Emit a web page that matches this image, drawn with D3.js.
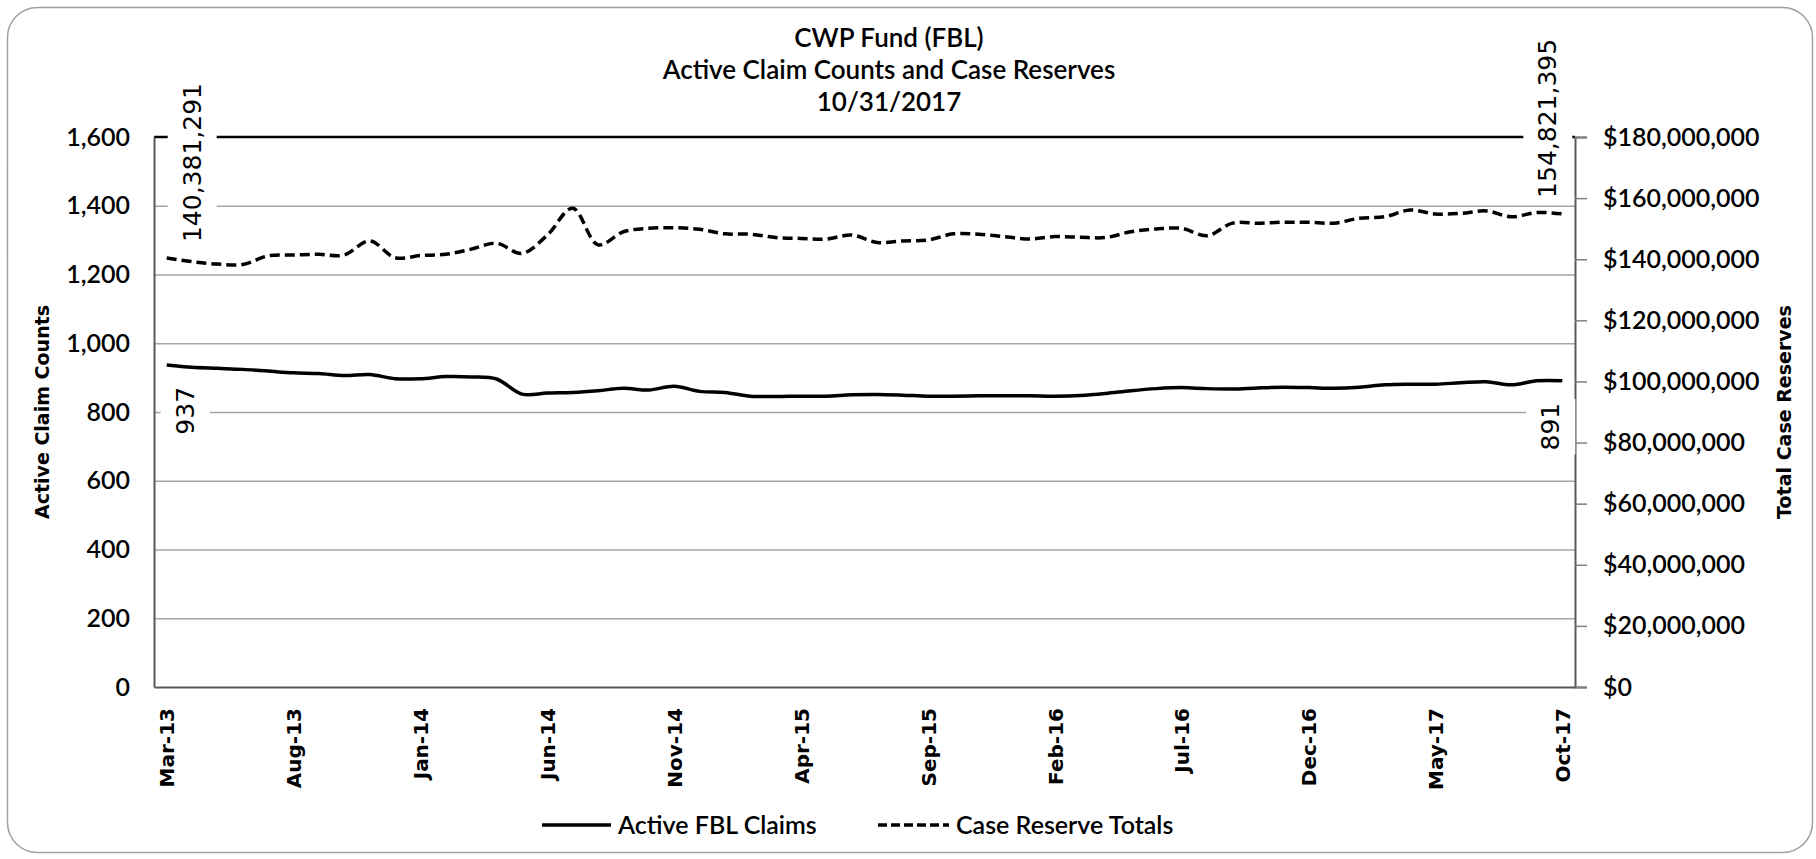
<!DOCTYPE html>
<html lang="en">
<head>
    <meta charset="UTF-8">
    <title>CWP Fund (FBL) - Active Claim Counts and Case Reserves</title>
    <script src="https://cdn.jsdelivr.net/npm/d3@7/dist/d3.min.js"></script>
    <style>
        html, body { margin: 0; padding: 0; background: #fff; }
        svg { display: block; }
    </style>
</head>
<body>
    <svg id="chart"></svg>

    <script>
        const months = [
            "Mar-13","Apr-13","May-13","Jun-13","Jul-13","Aug-13","Sep-13","Oct-13","Nov-13","Dec-13",
            "Jan-14","Feb-14","Mar-14","Apr-14","May-14","Jun-14","Jul-14","Aug-14","Sep-14","Oct-14","Nov-14","Dec-14",
            "Jan-15","Feb-15","Mar-15","Apr-15","May-15","Jun-15","Jul-15","Aug-15","Sep-15","Oct-15","Nov-15","Dec-15",
            "Jan-16","Feb-16","Mar-16","Apr-16","May-16","Jun-16","Jul-16","Aug-16","Sep-16","Oct-16","Nov-16","Dec-16",
            "Jan-17","Feb-17","Mar-17","Apr-17","May-17","Jun-17","Jul-17","Aug-17","Sep-17","Oct-17"
        ];
        const xTickLabels = ["Mar-13","Aug-13","Jan-14","Jun-14","Nov-14","Apr-15","Sep-15","Feb-16","Jul-16","Dec-16","May-17","Oct-17"];

        // active FBL claims (count)
        const claims = [
            937, 930, 927, 924, 919, 914, 912, 906, 909, 897,
            897, 903, 902, 896, 852, 855, 857, 862, 869, 864, 875, 860,
            857, 846, 845, 846, 846, 850, 851, 849, 846, 846, 847, 847,
            847, 846, 848, 854, 862, 868, 871, 868, 867, 870, 872, 871,
            869, 872, 879, 881, 881, 885, 888, 879, 891, 891
        ];
        // case reserve totals ($)
        const reserves = [
            140381291, 139200000, 138400000, 138300000, 141100000, 141400000, 141600000, 141400000, 146000000, 140500000,
            141200000, 141600000, 143300000, 145200000, 141900000, 147900000, 156700000, 144700000, 149000000, 150100000, 150300000, 149800000,
            148300000, 148200000, 147100000, 146800000, 146600000, 147900000, 145500000, 146000000, 146300000, 148300000, 148200000, 147400000,
            146600000, 147400000, 147200000, 147100000, 149000000, 149900000, 150100000, 147700000, 151800000, 151800000, 152100000, 152100000,
            151800000, 153400000, 153900000, 156100000, 154800000, 155000000, 155800000, 153900000, 155300000, 154821395
        ];

        const leftTicks = [0, 200, 400, 600, 800, 1000, 1200, 1400, 1600];
        const rightTicks = [0, 20e6, 40e6, 60e6, 80e6, 100e6, 120e6, 140e6, 160e6, 180e6];
        const titleLines = ["CWP Fund (FBL)", "Active Claim Counts and Case Reserves", "10/31/2017"];
        const seriesNames = ["Active FBL Claims", "Case Reserve Totals"];

        const width = 1816;
        const height = 859;
        const plot = { left: 154, right: 1575, top: 137, bottom: 687 };
        const calibri = "Lato, 'Open Sans', sans-serif";
        const verdana = "'DejaVu Sans', Verdana, sans-serif";
        const textWeight = 600;

        const svg = d3.select("#chart")
            .attr("width", width)
            .attr("height", height);

        // chart frame
        svg.append("rect")
            .attr("x", 7.5).attr("y", 7.5)
            .attr("width", 1805).attr("height", 845)
            .attr("rx", 30).attr("ry", 30)
            .attr("fill", "#fff")
            .attr("stroke", "#a0a0a0")
            .attr("stroke-width", 1.5);

        const x = d3.scalePoint()
            .domain(months)
            .range([plot.left, plot.right])
            .padding(0.5);

        const yLeft = d3.scaleLinear().domain([0, 1600]).range([plot.bottom, plot.top]);
        const yRight = d3.scaleLinear().domain([0, 180e6]).range([plot.bottom, plot.top]);

        // gridlines
        svg.append("g")
            .attr("transform", `translate(${plot.left},0)`)
            .call(d3.axisLeft(yLeft).tickValues(leftTicks.slice(1, -1)).tickSize(-(plot.right - plot.left)).tickFormat(""))
            .call(g => g.select(".domain").remove())
            .call(g => g.selectAll(".tick line").attr("stroke", "#a6a6a6").attr("stroke-width", 1.5));

        // top border line at 1,600
        svg.append("line")
            .attr("x1", plot.left).attr("x2", plot.right)
            .attr("y1", yLeft(1600)).attr("y2", yLeft(1600))
            .attr("stroke", "#000")
            .attr("stroke-width", 2.5);

        // left axis
        svg.append("g")
            .attr("transform", `translate(${plot.left},0)`)
            .call(d3.axisLeft(yLeft).tickValues(leftTicks).tickSize(0).tickPadding(24).tickFormat(d3.format(",")))
            .call(g => g.select(".domain").attr("stroke", "#595959").attr("stroke-width", 2))
            .call(g => g.selectAll("text")
                .attr("font-family", calibri)
                .attr("font-weight", textWeight)
                .attr("font-size", 25)
                .attr("fill", "#000"));

        // right axis
        svg.append("g")
            .attr("transform", `translate(${plot.right},0)`)
            .call(d3.axisRight(yRight).tickValues(rightTicks).tickSize(12).tickPadding(16)
                .tickFormat(d => "$" + d3.format(",")(d)))
            .call(g => g.select(".domain").attr("stroke", "#595959").attr("stroke-width", 2))
            .call(g => g.selectAll(".tick line").attr("stroke", "#7f7f7f").attr("stroke-width", 1.5))
            .call(g => g.selectAll("text")
                .attr("font-family", calibri)
                .attr("font-weight", textWeight)
                .attr("font-size", 25)
                .attr("fill", "#000"));

        // bottom axis
        svg.append("g")
            .attr("transform", `translate(0,${plot.bottom})`)
            .call(d3.axisBottom(x).tickValues(xTickLabels).tickSize(0))
            .call(g => g.select(".domain").attr("stroke", "#595959").attr("stroke-width", 2))
            .call(g => g.selectAll("text")
                .attr("transform", "rotate(-90)")
                .attr("text-anchor", "end")
                .attr("x", -21)
                .attr("y", 0)
                .attr("dy", "0.36em")
                .attr("font-family", verdana)
                .attr("font-weight", "bold")
                .attr("font-size", 20)
                .attr("fill", "#000"));

        // axis titles
        svg.append("text")
            .attr("transform", `translate(49,${(plot.top + plot.bottom) / 2}) rotate(-90)`)
            .attr("text-anchor", "middle")
            .attr("font-family", verdana)
            .attr("font-weight", "bold")
            .attr("font-size", 19)
            .text("Active Claim Counts");

        svg.append("text")
            .attr("transform", `translate(1791,${(plot.top + plot.bottom) / 2}) rotate(-90)`)
            .attr("text-anchor", "middle")
            .attr("font-family", verdana)
            .attr("font-weight", "bold")
            .attr("font-size", 19)
            .text("Total Case Reserves");

        // chart title
        svg.append("g")
            .selectAll("text")
            .data(titleLines)
            .join("text")
            .attr("x", 889)
            .attr("y", (d, i) => 47 + i * 32)
            .attr("text-anchor", "middle")
            .attr("font-family", calibri)
            .attr("font-weight", textWeight)
            .attr("font-size", 26)
            .attr("fill", "#000")
            .text(d => d);

        // lines
        const claimLine = d3.line()
            .x((d, i) => x(months[i]))
            .y(d => yLeft(d))
            .curve(d3.curveCatmullRom);

        const reserveLine = d3.line()
            .x((d, i) => x(months[i]))
            .y(d => yRight(d))
            .curve(d3.curveCatmullRom);

        svg.append("path")
            .datum(reserves)
            .attr("d", reserveLine)
            .attr("fill", "none")
            .attr("stroke", "#000")
            .attr("stroke-width", 3.5)
            .attr("stroke-dasharray", "10,5");

        svg.append("path")
            .datum(claims)
            .attr("d", claimLine)
            .attr("fill", "none")
            .attr("stroke", "#000")
            .attr("stroke-width", 3.5);

        // data labels on first and last points (white box behind)
        const last = months.length - 1;
        const labels = [
            { i: 0, value: reserves[0], y: yRight(reserves[0]), above: true, shift: 25 },
            { i: last, value: reserves[last], y: yRight(reserves[last]), above: true, shift: -15 },
            { i: 0, value: claims[0], y: yLeft(claims[0]), above: false, shift: 18 },
            { i: last, value: claims[last], y: yLeft(claims[last]), above: false, shift: -12 }
        ];

        labels.forEach(d => {
            const g = svg.append("g");
            const px = x(months[d.i]) + d.shift;
            const t = g.append("text")
                .attr("font-family", verdana)
                .attr("font-size", 25)
                .attr("fill", "#000")
                .attr("text-anchor", d.above ? "start" : "end")
                .attr("dy", "0.36em")
                .attr("transform", `translate(${px},${d.above ? d.y - 16 : d.y + 22}) rotate(-90)`)
                .text(d3.format(",")(d.value));
            const b = t.node().getBBox();
            // bbox is in rotated space: width runs along the screen y-axis
            g.insert("rect", "text")
                .attr("transform", t.attr("transform"))
                .attr("x", b.x - 4)
                .attr("y", b.y - 10)
                .attr("width", b.width + 8)
                .attr("height", b.height + 20)
                .attr("fill", "#fff");
        });

        // legend
        const legend = svg.append("g").attr("transform", "translate(0,825)");
        const legendItems = [
            { name: seriesNames[0], x1: 542, x2: 611, dash: null },
            { name: seriesNames[1], x1: 878, x2: 949, dash: "9,4" }
        ];
        legendItems.forEach(d => {
            legend.append("line")
                .attr("x1", d.x1).attr("x2", d.x2)
                .attr("y1", 0).attr("y2", 0)
                .attr("stroke", "#000")
                .attr("stroke-width", 3.5)
                .attr("stroke-dasharray", d.dash);
            legend.append("text")
                .attr("x", d.x2 + 7)
                .attr("y", 0)
                .attr("dy", "0.35em")
                .attr("font-family", calibri)
                .attr("font-weight", textWeight)
                .attr("font-size", 25)
                .attr("fill", "#000")
                .text(d.name);
        });
    </script>
</body>
</html>
